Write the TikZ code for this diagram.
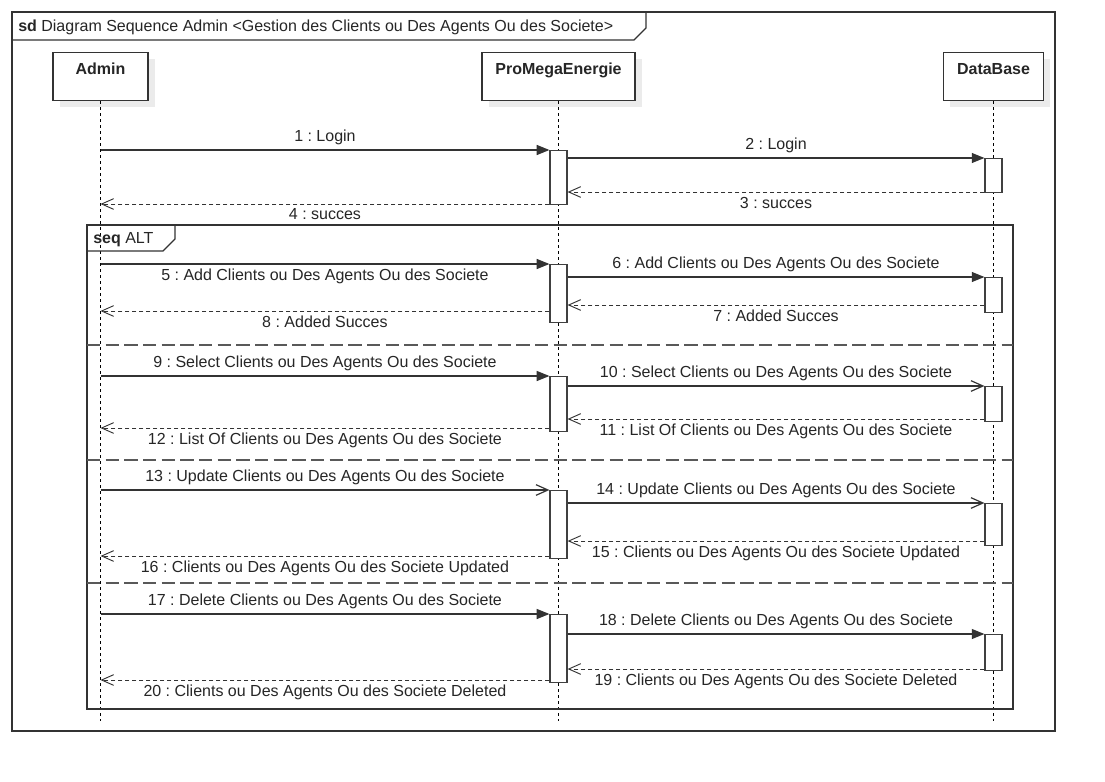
\documentclass[tikz,border=0pt]{standalone}
\usepackage{fontspec}
\setmainfont{Liberation Sans}
\usetikzlibrary{positioning,arrows.meta,shadows}
\frenchspacing

\tikzset{
  lifehead/.style={rectangle, draw=black!80, fill=white, line width=0.8pt, font=\fontsize{12}{14.4}\selectfont\bfseries, anchor=north,
    text height=14pt, text depth=17pt, inner ysep=2.5pt, inner xsep=0pt,
    drop shadow={shadow xshift=5pt, shadow yshift=-5pt, fill=black!8, opacity=1}},
  lifeline/.style={black, line width=0.6pt, dash pattern=on 2.25pt off 2.25pt},
  act/.style={rectangle, draw=black!75, fill=white, line width=0.9pt, minimum width=12.75pt, inner sep=0pt, anchor=north},
  call/.style={draw=black!80, line width=0.9pt, -{Triangle[length=9.5pt, width=7.5pt]}},
  callopen/.style={draw=black!80, line width=0.9pt, -{Straight Barb[length=9pt, width=8pt]}},
  reply/.style={draw=black!80, line width=0.7pt, dash pattern=on 3pt off 2.25pt, -{Straight Barb[length=9pt, width=8pt]}},
  frame/.style={draw=black!80, line width=0.9pt},
  separator/.style={draw=black!65, line width=1.1pt, dash pattern=on 10pt off 4pt},
}

\begin{document}
\begin{tikzpicture}[x=0.75pt, y=-0.75pt, font=\fontsize{12}{14.4}\selectfont, text=black!85]
\fill[white] (0,0) rectangle (1105,781);

% sd frame
\draw[frame] (12,12) rectangle (1055,731);
\draw[frame] (12,40) -- (634,40) -- (646,28) -- (646,12);
\node[anchor=base west, inner sep=0pt] (sdTitle) at (18,32) {\textbf{sd} Diagram Sequence Admin <Gestion des Clients ou Des Agents Ou des Societe>};

% lifelines
\node[lifehead, minimum width=71.25pt] (admin) at (100.5,52) {Admin};
\node[lifehead, minimum width=114.75pt] (promega) at (558.5,52) {ProMegaEnergie};
\node[lifehead, minimum width=75pt] (database) at (993.5,52) {DataBase};

\coordinate (lifeEnd) at (0,721);
\draw[lifeline] (admin.south) -- (admin |- lifeEnd);
\draw[lifeline] (promega.south) -- (promega |- lifeEnd);
\draw[lifeline] (database.south) -- (database |- lifeEnd);

% seq ALT fragment
\draw[frame] (87,225) rectangle (1013,709);
\draw[frame] (87,251) -- (163,251) -- (175,239) -- (175,225);
\node[anchor=base west, inner sep=0pt] (seqTitle) at (93,243) {\textbf{seq} ALT};
\draw[separator] (87,345) -- (1013,345);
\draw[separator] (87,460) -- (1013,460);
\draw[separator] (87,583) -- (1013,583);

% message heights
\foreach \n/\y in {1/150, 2/158, 3/192, 4/204, 5/264, 6/277, 7/305, 8/311, 9/376, 10/386,
                   11/419, 12/428, 13/490, 14/503, 15/541, 16/556, 17/614, 18/634, 19/669, 20/680}
  \coordinate (m\n) at (0,\y);

% activations
\node[act, minimum height=40.5pt] (act1) at (promega |- m1) {};
\node[act, minimum height=25.5pt] (db1) at (database |- m2) {};
\node[act, minimum height=43.5pt] (act2) at (promega |- m5) {};
\node[act, minimum height=26.25pt] (db2) at (database |- m6) {};
\node[act, minimum height=41.25pt] (act3) at (promega |- m9) {};
\node[act, minimum height=26.25pt] (db3) at (database |- m10) {};
\node[act, minimum height=51pt] (act4) at (promega |- m13) {};
\node[act, minimum height=31.5pt] (db4) at (database |- m14) {};
\node[act, minimum height=51pt] (act5) at (promega |- m17) {};
\node[act, minimum height=27pt] (db5) at (database |- m18) {};

% login
\draw[call] (admin |- m1) -- (act1.west |- m1) node[midway, above] (l1) {1 : Login};
\draw[call] (act1.east |- m2) -- (db1.west |- m2) node[midway, above] (l2) {2 : Login};
\draw[reply] (db1.west |- m3) -- (act1.east |- m3) node[midway, below] (l3) {3 : succes};
\draw[reply] (act1.west |- m4) -- (admin |- m4) node[midway, below] (l4) {4 : succes};

% add
\draw[call] (admin |- m5) -- (act2.west |- m5) node[midway, below] (l5) {5 : Add Clients ou Des Agents Ou des Societe};
\draw[call] (act2.east |- m6) -- (db2.west |- m6) node[midway, above] (l6) {6 : Add Clients ou Des Agents Ou des Societe};
\draw[reply] (db2.west |- m7) -- (act2.east |- m7) node[midway, below] (l7) {7 : Added Succes};
\draw[reply] (act2.west |- m8) -- (admin |- m8) node[midway, below] (l8) {8 : Added Succes};

% select
\draw[call] (admin |- m9) -- (act3.west |- m9) node[midway, above] (l9) {9 : Select Clients ou Des Agents Ou des Societe};
\draw[callopen] (act3.east |- m10) -- (db3.west |- m10) node[midway, above] (l10) {10 : Select Clients ou Des Agents Ou des Societe};
\draw[reply] (db3.west |- m11) -- (act3.east |- m11) node[midway, below] (l11) {11 : List Of Clients ou Des Agents Ou des Societe};
\draw[reply] (act3.west |- m12) -- (admin |- m12) node[midway, below] (l12) {12 : List Of Clients ou Des Agents Ou des Societe};

% update
\draw[callopen] (admin |- m13) -- (act4.west |- m13) node[midway, above] (l13) {13 : Update Clients ou Des Agents Ou des Societe};
\draw[callopen] (act4.east |- m14) -- (db4.west |- m14) node[midway, above] (l14) {14 : Update Clients ou Des Agents Ou des Societe};
\draw[reply] (db4.west |- m15) -- (act4.east |- m15) node[midway, below] (l15) {15 : Clients ou Des Agents Ou des Societe Updated};
\draw[reply] (act4.west |- m16) -- (admin |- m16) node[midway, below] (l16) {16 : Clients ou Des Agents Ou des Societe Updated};

% delete
\draw[call] (admin |- m17) -- (act5.west |- m17) node[midway, above] (l17) {17 : Delete Clients ou Des Agents Ou des Societe};
\draw[call] (act5.east |- m18) -- (db5.west |- m18) node[midway, above] (l18) {18 : Delete Clients ou Des Agents Ou des Societe};
\draw[reply] (db5.west |- m19) -- (act5.east |- m19) node[midway, below] (l19) {19 : Clients ou Des Agents Ou des Societe Deleted};
\draw[reply] (act5.west |- m20) -- (admin |- m20) node[midway, below] (l20) {20 : Clients ou Des Agents Ou des Societe Deleted};

\end{tikzpicture}
\end{document}
